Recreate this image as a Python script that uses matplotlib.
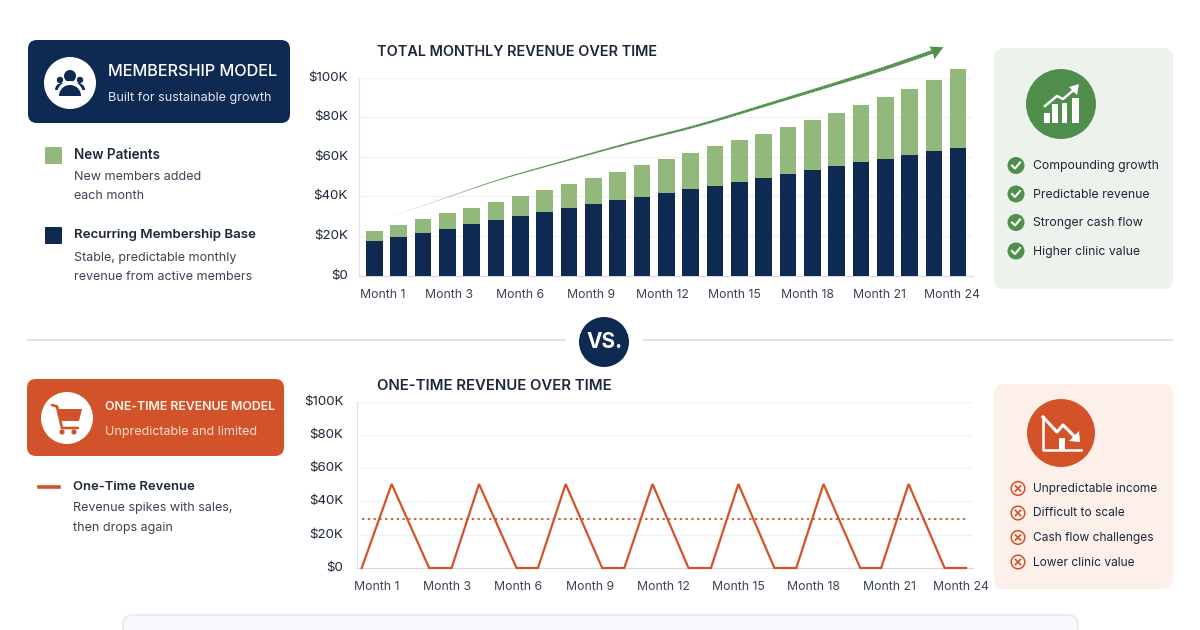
import numpy as np
import matplotlib
matplotlib.use("Agg")
import matplotlib.pyplot as plt
from matplotlib.collections import LineCollection
from matplotlib.patches import Circle, FancyBboxPatch, Polygon, Rectangle, Wedge
from matplotlib.transforms import ScaledTranslation

plt.rcParams['font.family'] = ['Inter', 'DejaVu Sans']

NAVY = '#0f2a52'
GREEN = '#93b87c'
DARK_GREEN = '#4f8f4b'
ORANGE = '#d2532a'
TEXT = '#1c2738'
SUBTEXT = '#3a4454'

# monthly bars, in $K
base_revenue = [17.7, 19.7, 21.5, 23.7, 25.9, 27.9, 30.0, 32.0, 34.0, 36.0, 38.0, 39.9, 41.8,
                43.8, 45.5, 47.5, 49.3, 51.3, 53.2, 55.2, 57.2, 59.1, 60.9, 62.8, 64.6]
new_patients = [5.0, 6.1, 7.1, 7.8, 8.4, 9.5, 10.4, 11.4, 12.5, 13.5, 14.5, 15.8, 17.1,
                18.2, 19.8, 20.9, 22.4, 23.8, 25.4, 27.1, 28.8, 31.1, 33.5, 36.2, 39.8]
bar_labels = ['Month 1', 'Month 3', 'Month 6', 'Month 9', 'Month 12', 'Month 15', 'Month 18', 'Month 21', 'Month 24']
bar_label_pos = [0.36, 3.07, 5.99, 8.9, 11.86, 14.8, 17.8, 20.75, 23.75]

# trend arrow above the bars
trend_x = [0.65, 5.16, 10.63, 13.4, 15.3, 18.0, 20.8, 22.95]
trend_y = [29.6, 48.8, 67.5, 76.0, 83.2, 93.3, 103.9, 113.1]
head_x = [23.39, 22.81, 22.95, 23.02]
head_y = [115.4, 115.7, 113.1, 109.3]

# one-time revenue line, x in months from the first point
onetime_x = [0, 1.19, 2.68, 3.57, 4.66, 6.15, 7.0, 8.1, 9.55, 10.43, 11.55, 12.98, 13.87,
             14.96, 16.39, 17.26, 18.34, 19.8, 20.63, 21.72, 23.15, 24]
onetime_y = [0, 50.5, 0, 0, 50.5, 0, 0, 50.5, 0, 0, 50.5, 0, 0, 50.5, 0, 0, 50.5, 0, 0, 50.5, 0, 0]
onetime_avg = 29.5
line_label_pos = [0.61, 3.39, 6.2, 9.07, 11.97, 14.98, 17.96, 20.94, 23.8]

y_ticks = [0, 20, 40, 60, 80, 100]
y_labels = ['$0', '$20K', '$40K', '$60K', '$80K', '$100K']

good_points = ['Compounding growth', 'Predictable revenue', 'Stronger cash flow', 'Higher clinic value']
bad_points = ['Unpredictable income', 'Difficult to scale', 'Cash flow challenges', 'Lower clinic value']


def px_axes(fig, left, right, top, bottom):
    # axes placed by its pixel edges in the 1200x630 picture
    ax = fig.add_axes([left / 1200, 1 - bottom / 630, (right - left) / 1200, (bottom - top) / 630], zorder=2)
    ax.patch.set_visible(False)
    return ax


def style_axes(fig, ax, labels, label_pos, y_pad, x_pad):
    ax.set_ylim(0, 100)
    ax.set_yticks(y_ticks)
    ax.set_yticklabels(y_labels, fontsize=9.6, color=TEXT)
    ax.set_xticks(label_pos)
    ax.set_xticklabels(labels, fontsize=8.8, color=SUBTEXT)
    ax.tick_params(length=0)
    ax.tick_params(axis='y', pad=y_pad)
    ax.tick_params(axis='x', pad=x_pad)
    ax.grid(axis='y', color='#f0f2f4', lw=1)
    ax.set_axisbelow(True)
    for side in ['top', 'right']:
        ax.spines[side].set_visible(False)
    ax.spines['left'].set_color('#e0e3e8')
    ax.spines['bottom'].set_color('#d5d8de')
    # the y labels sit a little above their gridlines
    lift = ScaledTranslation(0, 1.5 / 100, fig.dpi_scale_trans)
    for tick_label in ax.get_yticklabels():
        tick_label.set_transform(tick_label.get_transform() + lift)


def box(bg, x0, y0, x1, y1, color, radius=9, edge='none'):
    bg.add_patch(FancyBboxPatch((x0 + radius, y0 + radius), x1 - x0 - 2 * radius, y1 - y0 - 2 * radius,
                                boxstyle=f'round,pad={radius},rounding_size={radius}',
                                fc=color, ec=edge, lw=1))


def label(bg, x, y, s, size=9, color=SUBTEXT, weight='normal', ha='left'):
    bg.text(x, y + 1, s, fontsize=size, color=color, fontweight=weight, ha=ha, va='center')


def people_icon(bg, color):
    bg.add_patch(Circle((70, 76), 6, fc=color, ec='none'))
    bg.add_patch(Circle((60, 80), 3.2, fc=color, ec='none'))
    bg.add_patch(Circle((80, 80), 3.2, fc=color, ec='none'))
    bg.add_patch(Wedge((62, 90), 7, 180, 360, fc=color, ec='none'))
    bg.add_patch(Wedge((78, 90), 7, 180, 360, fc=color, ec='none'))
    bg.add_patch(Wedge((70, 94), 13, 180, 360, fc='white', ec='none'))
    bg.add_patch(Wedge((70, 96), 11, 180, 360, fc=color, ec='none'))


def cart_icon(bg, color):
    bg.plot([52, 57, 62, 78], [405, 406.5, 428, 428], color=color, lw=1.9, solid_capstyle='round')
    bg.add_patch(Polygon([(57, 409), (82, 409), (79, 421), (60, 421)], fc=color, ec='none'))
    bg.add_patch(Circle((62, 432), 2.6, fc=color, ec='none'))
    bg.add_patch(Circle((74, 432), 2.6, fc=color, ec='none'))


def growth_icon(bg):
    for x0, x1, top in [(1043.5, 1049.5, 113), (1052, 1058, 104), (1062, 1067, 103), (1072, 1079, 98)]:
        bg.add_patch(Rectangle((x0, top), x1 - x0, 123 - top, fc='white', ec='none'))
    bg.plot([1045, 1057, 1063, 1076], [106, 96, 99, 88], color='white', lw=1.8)
    bg.add_patch(Polygon([(1079, 84), (1069, 87), (1077, 95)], fc='white', ec='none'))


def decline_icon(bg):
    bg.plot([1043, 1043, 1081], [417, 450, 450], color='white', lw=1.8)
    bg.plot([1043, 1057, 1063, 1076], [417, 432, 425, 438], color='white', lw=2.2)
    bg.add_patch(Polygon([(1080, 442), (1069, 441), (1079, 431)], fc='white', ec='none'))
    bg.add_patch(Rectangle((1059, 438), 6, 12, fc='white', ec='none'))


def check_mark(bg, x, y):
    bg.add_patch(Circle((x, y), 8.5, fc=DARK_GREEN, ec='none'))
    bg.plot([x - 4, x - 1, x + 4], [y, y + 3, y - 3], color='white', lw=1.5)


def cross_mark(bg, x, y):
    bg.add_patch(Circle((x, y), 6.8, fc='none', ec=ORANGE, lw=1.1))
    bg.plot([x - 2.6, x + 2.6], [y - 2.6, y + 2.6], color=ORANGE, lw=1.2)
    bg.plot([x - 2.6, x + 2.6], [y + 2.6, y - 2.6], color=ORANGE, lw=1.2)


def draw_background(fig):
    bg = fig.add_axes([0, 0, 1, 1], zorder=1)
    bg.set_xlim(0, 1200)
    bg.set_ylim(630, 0)
    bg.axis('off')

    # membership header and legend
    box(bg, 28, 40, 290, 123, NAVY)
    bg.add_patch(Circle((70, 83), 26, fc='white', ec='none'))
    people_icon(bg, NAVY)
    label(bg, 108, 71, 'MEMBERSHIP MODEL', 11.7, 'white', 'medium')
    label(bg, 108, 96.5, 'Built for sustainable growth', 9.1, '#dfe5ee')

    box(bg, 45, 147, 62, 164, GREEN, radius=1)
    label(bg, 74, 154, 'New Patients', 9.7, TEXT, 'semibold')
    label(bg, 74, 176, 'New members added', 9.0)
    label(bg, 74, 195, 'each month', 9.0)
    box(bg, 45, 227, 62, 244, NAVY, radius=1)
    label(bg, 74, 234, 'Recurring Membership Base', 9.6, TEXT, 'semibold')
    label(bg, 74, 256.5, 'Stable, predictable monthly', 9.0)
    label(bg, 74, 275.5, 'revenue from active members', 9.0)

    # right panel, membership
    box(bg, 994, 48, 1173, 289, '#edf3ec', radius=10)
    bg.add_patch(Circle((1061, 104), 35, fc=DARK_GREEN, ec='none'))
    growth_icon(bg)
    for y, s in zip([165, 193.5, 222, 250.5], good_points):
        check_mark(bg, 1016, y + 0.5)
        label(bg, 1033, y, s, 8.8, TEXT)

    # divider
    bg.plot([28, 565], [340, 340], color='#dcdfe3', lw=1.2)
    bg.plot([644, 1172], [340, 340], color='#dcdfe3', lw=1.2)
    bg.add_patch(Circle((604, 342), 25, fc=NAVY, ec='none'))
    label(bg, 604.5, 341.5, 'VS.', 15, 'white', 'bold', ha='center')

    # one-time header and legend
    box(bg, 27, 379, 284, 456, ORANGE)
    bg.add_patch(Circle((67, 418), 26, fc='white', ec='none'))
    cart_icon(bg, ORANGE)
    label(bg, 105, 406, 'ONE-TIME REVENUE MODEL', 8.9, '#fff4ee', 'semibold')
    label(bg, 105, 430.5, 'Unpredictable and limited', 9.0, '#fbdccd')
    bg.plot([39, 59], [487, 487], color=ORANGE, lw=2.6)
    label(bg, 73, 486, 'One-Time Revenue', 9.4, TEXT, 'semibold')
    label(bg, 73, 507.5, 'Revenue spikes with sales,', 9.0)
    label(bg, 73, 526.5, 'then drops again', 9.0)

    # right panel, one-time
    box(bg, 994, 384, 1173, 589, '#fdf0ea', radius=10)
    bg.add_patch(Circle((1061, 433), 34, fc=ORANGE, ec='none'))
    decline_icon(bg)
    for y, s in zip([488, 512.5, 537, 561.5], bad_points):
        cross_mark(bg, 1018, y + 0.5)
        label(bg, 1033, y, s, 8.6, TEXT)

    # bottom card, cut off by the edge of the picture
    box(bg, 123, 615, 1078, 660, '#f6f8fb', radius=10, edge='#dfe6ee')

    # chart titles
    label(bg, 377, 51, 'TOTAL MONTHLY REVENUE OVER TIME', 10.4, TEXT, 'semibold')
    label(bg, 377, 385.5, 'ONE-TIME REVENUE OVER TIME', 10.75, TEXT, 'semibold')


def draw_bars(fig):
    ax = px_axes(fig, 359, 973, 77.7, 275.7)
    months = np.arange(len(base_revenue))
    ax.bar(months, base_revenue, width=0.68, color=NAVY, clip_on=False, zorder=3)
    ax.bar(months, new_patients, width=0.68, bottom=base_revenue, color=GREEN, clip_on=False, zorder=3)
    ax.set_xlim((359 - 374.3) / 24.33, (973 - 374.3) / 24.33)
    style_axes(fig, ax, bar_labels, bar_label_pos, 8, 9.5)

    # tapered trend arrow: thin and faint at the start, thick at the head
    xs = np.linspace(trend_x[0], trend_x[-1], 200)
    ys = np.interp(xs, trend_x, trend_y)
    # soften the corners between the read points, keep both ends in place
    kernel = np.ones(21) / 21
    padded = np.concatenate([2 * ys[0] - ys[10:0:-1], ys, 2 * ys[-1] - ys[-2:-12:-1]])
    ys = np.convolve(padded, kernel, mode='valid')
    points = np.column_stack([xs, ys])
    segments = np.stack([points[:-1], points[1:]], axis=1)
    widths = np.linspace(0.2, 2.8, len(segments))
    colors = [(0.31, 0.56, 0.29, min(1.0, 0.12 + i / 45)) for i in range(len(segments))]
    arrow = LineCollection(segments, linewidths=widths, colors=colors, capstyle='butt', zorder=4)
    arrow.set_clip_on(False)
    ax.add_collection(arrow)
    ax.add_patch(Polygon(np.column_stack([head_x, head_y]), fc=DARK_GREEN, ec='none', clip_on=False, zorder=5))


def draw_line(fig):
    ax = px_axes(fig, 357.3, 973, 401.7, 568)
    ax.plot(onetime_x, onetime_y, color=ORANGE, lw=1.6, solid_joinstyle='miter', zorder=3, clip_on=False)
    ax.plot([onetime_x[0], onetime_x[-1]], [onetime_avg, onetime_avg], color=ORANGE, lw=1.3,
            linestyle=(0, (1.3, 1.9)), zorder=3)
    ax.set_xlim((357.3 - 361.7) / 25.18, (973 - 361.7) / 25.18)
    style_axes(fig, ax, bar_labels, line_label_pos, 10, 9)


def main():
    fig = plt.figure(figsize=(12, 6.3), dpi=100, facecolor='white')
    draw_background(fig)
    draw_bars(fig)
    draw_line(fig)
    fig.savefig('out.png', dpi=100)
    plt.close(fig)


if __name__ == "__main__":
    main()
